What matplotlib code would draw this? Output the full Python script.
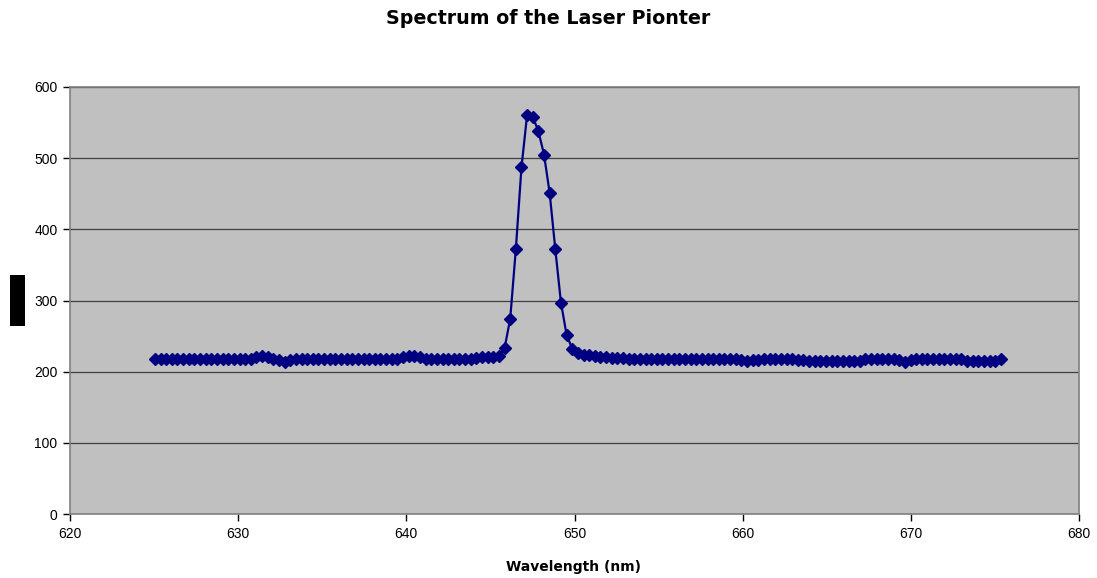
import numpy as np
import matplotlib
matplotlib.use("Agg")
import matplotlib.pyplot as plt
from matplotlib.patches import Rectangle

plt.rcParams['font.family'] = ['Liberation Sans', 'DejaVu Sans']

title = "Spectrum of the Laser Pionter"
xlabel = "Wavelength (nm)"
x_ticks = [620, 630, 640, 650, 660, 670, 680]
y_ticks = [0, 100, 200, 300, 400, 500, 600]

# sampling grid of the spectrometer (nm)
wl_start, wl_end, n_samples = 625.05, 675.35, 151
wavelength = np.linspace(wl_start, wl_end, n_samples)

intensity = [
    218, 218, 218, 218, 218, 218, 218, 218, 218, 218,
    218, 218, 218, 218, 218, 218, 218, 218, 221, 222,
    220, 218, 217, 214, 217, 218, 218, 218, 218, 218,
    218, 218, 218, 218, 218, 218, 218, 218, 218, 218,
    218, 218, 218, 218, 220, 222, 222, 220, 218, 218,
    218, 218, 218, 218, 218, 218, 218, 219, 220, 221,
    221, 222, 233, 274, 372, 487, 561, 558, 538, 505,
    451, 372, 297, 252, 232, 226, 224, 223, 222, 221,
    220, 219, 219, 219, 218, 218, 218, 218, 218, 218,
    218, 218, 218, 218, 218, 218, 218, 218, 218, 218,
    218, 218, 218, 218, 217, 215, 216, 217, 218, 218,
    218, 218, 218, 218, 217, 216, 215, 215, 215, 215,
    215, 215, 215, 215, 215, 215, 218, 218, 218, 218,
    218, 218, 217, 214, 217, 218, 218, 218, 218, 218,
    218, 218, 218, 218, 215, 215, 215, 215, 215, 215,
    218,
]

fig = plt.figure(figsize=(10.97, 5.78), dpi=100)
ax = fig.add_axes([70/1097, 1-514/578, (1079-70)/1097, (514-87)/578])
ax.set_facecolor('#C0C0C0')

ax.plot(wavelength, intensity, color='#000080', lw=1.6, marker='D',
        markersize=6.5, markerfacecolor='#000080', markeredgecolor='#000080',
        zorder=3)

ax.set_xlim(620, 680)
ax.set_ylim(0, 600)
ax.set_xticks(x_ticks)
ax.set_yticks(y_ticks)
ax.tick_params(axis='both', direction='out', length=5, width=1,
               labelsize=10, color='#000000', pad=4)
ax.yaxis.grid(True, color='#404040', lw=0.9)
ax.set_axisbelow(True)
for s in ax.spines.values():
    s.set_color('#808080')
    s.set_linewidth(1.2)

fig.text((383+714)/2/1097, 1-18/578, title, ha='center', va='center',
         fontsize=13.7, fontweight='bold', family=['DejaVu Sans'])
fig.text((503+643)/2/1097, 1-567/578, xlabel, ha='center', va='center',
         fontsize=10, fontweight='bold', family=['DejaVu Sans'])

fig.patches.append(Rectangle((10/1097, 1-326/578), 15/1097, 51/578,
                             transform=fig.transFigure, facecolor='black',
                             edgecolor='none'))

fig.savefig('out.png', dpi=100)
